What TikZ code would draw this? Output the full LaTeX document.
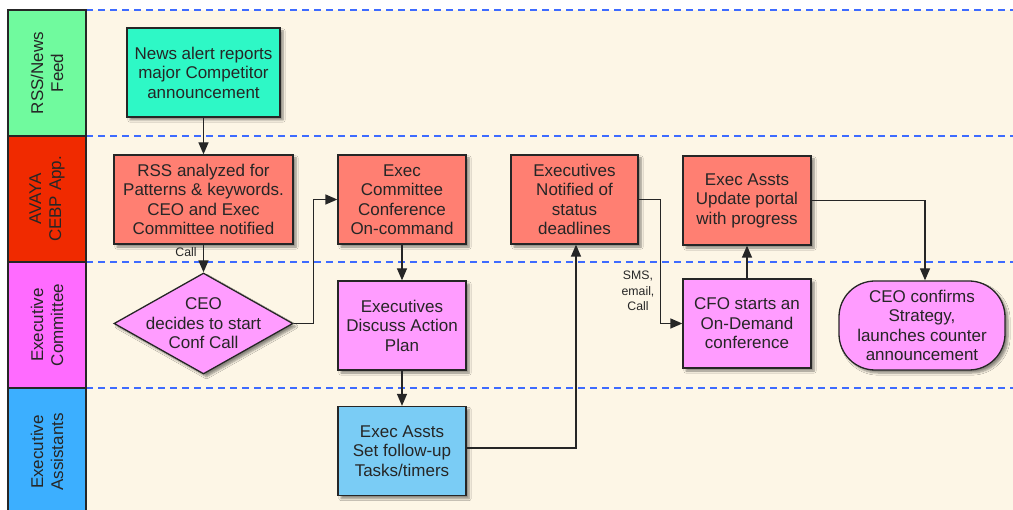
\documentclass[tikz,border=0pt]{standalone}
\usepackage{fontspec}
\setmainfont{Liberation Sans}
\usetikzlibrary{shapes.geometric,arrows.meta,shadows.blur}
\definecolor{lanegreen}{HTML}{70FA9E}
\definecolor{lanered}{HTML}{F02A00}
\definecolor{lanemagenta}{HTML}{FF6BFF}
\definecolor{laneblue}{HTML}{3CAFFF}
\definecolor{teal1}{HTML}{2EF8C6}
\definecolor{salmon1}{HTML}{FF7F72}
\definecolor{pink1}{HTML}{FF9CFF}
\definecolor{sky1}{HTML}{7ACCF5}
\definecolor{paper}{HTML}{FDF6E6}
\definecolor{dashblue}{HTML}{3E6BFF}
\definecolor{ink}{HTML}{262626}
\tikzset{
  box/.style={draw=ink, line width=1.3pt, text=ink, align=center,
    font=\fontsize{17}{19.5}\selectfont, inner sep=0pt,
    minimum width=128pt, minimum height=89pt,
    blur shadow={shadow xshift=3pt, shadow yshift=-3pt, shadow blur steps=6, shadow opacity=45}},
  boxtext/.style={text=ink, align=center, font=\fontsize{17}{19.5}\selectfont, inner sep=0pt},
  lanehead/.style={draw=ink, line width=1.2pt},
  lanetext/.style={rotate=90, align=center, text=ink, font=\fontsize{17}{20}\selectfont},
  lanesep/.style={draw=dashblue, line width=1.3pt, dash pattern=on 7pt off 5pt},
  arr/.style={draw=ink, line width=1.3pt, -{Triangle[length=12pt,width=10pt]}},
  smalllabel/.style={text=ink, align=center, font=\fontsize{12.3}{15.5}\selectfont, inner sep=0pt},
}
\begin{document}
\begin{tikzpicture}[x=1pt,y=-1pt]
\clip (0,0) rectangle (1013,510);
\fill[white] (0,0) rectangle (1013,510);
% swimlane background and separators
\fill[paper] (86,10) rectangle (1013,520);
\foreach \yy in {10,136,262,388}{
  \draw[lanesep] (86,\yy) -- (1013,\yy);
}
% lane headers
\filldraw[lanehead, fill=lanegreen] (8,10) rectangle (86,136);
\filldraw[lanehead, fill=lanered] (8,136) rectangle (86,262);
\filldraw[lanehead, fill=lanemagenta] (8,262) rectangle (86,388);
\filldraw[lanehead, fill=laneblue] (8,388) rectangle (86,530);
\node[lanetext] (h1) at (47,73) {RSS/News\\Feed};
\node[lanetext] (h2) at (47,199) {AVAYA\\CEBP App.};
\node[lanetext] (h3) at (47,325) {Executive\\Committee};
\node[lanetext] (h4) at (47,452) {Executive\\Assistants};

% process steps
\node[box, fill=teal1, minimum width=153pt] (news) at (203.5,72.5)
  {News alert reports\\major Competitor\\announcement};
\node[box, fill=salmon1, minimum width=179pt] (rss) at (203.5,199.5)
  {RSS analyzed for\\Patterns \& keywords.\\CEO and Exec\\Committee notified};
\node[box, fill=pink1, shape=diamond, minimum width=179pt, minimum height=101pt] (ceo) at (203.5,323.5) {};
\node[boxtext] (ceotext) at (ceo.center) {CEO\\decides to start\\Conf Call};
\node[box, fill=salmon1] (conf) at (402,199.5)
  {Exec\\Committee\\Conference\\On-command};
\node[box, fill=pink1] (disc) at (402,325.5)
  {Executives\\Discuss Action\\Plan};
\node[box, fill=sky1] (tasks) at (402,451)
  {Exec Assts\\Set follow-up\\Tasks/timers};
\node[box, fill=salmon1, minimum width=127pt] (notif) at (574.5,199.5)
  {Executives\\Notified of\\status\\deadlines};
\node[box, fill=salmon1] (portal) at (747,200.5)
  {Exec Assts\\Update portal\\with progress};
\node[box, fill=pink1] (cfo) at (747,323.5)
  {CFO starts an\\On-Demand\\conference};
\node[box, fill=pink1, rounded corners=36pt, minimum width=166pt] (confirm) at (922,325.5)
  {CEO confirms\\Strategy,\\launches counter\\announcement};

% connectors
\draw[arr] (news) -- (rss);
\draw[arr] (rss) -- (ceo);
\node[smalllabel] (lcall) at (186,252.5) {Call};
\draw[arr] (ceo.east) -- ++(20,0) |- (conf.west);
\draw[arr] (conf) -- (disc);
\draw[arr] (disc) -- (tasks);
\draw[arr] ([yshift=3pt]tasks.east) -| ([xshift=1.5pt]notif.south);
\draw[arr] (notif.east) -- ++(22,0) coordinate (sbend) |- (cfo.west);
\node[smalllabel] (lsms) at (638,291) {SMS,\\email,\\Call};
\draw[arr] (cfo) -- (portal);
\draw[arr] (portal.east) -| ([xshift=3pt]confirm.north);
\end{tikzpicture}
\end{document}
